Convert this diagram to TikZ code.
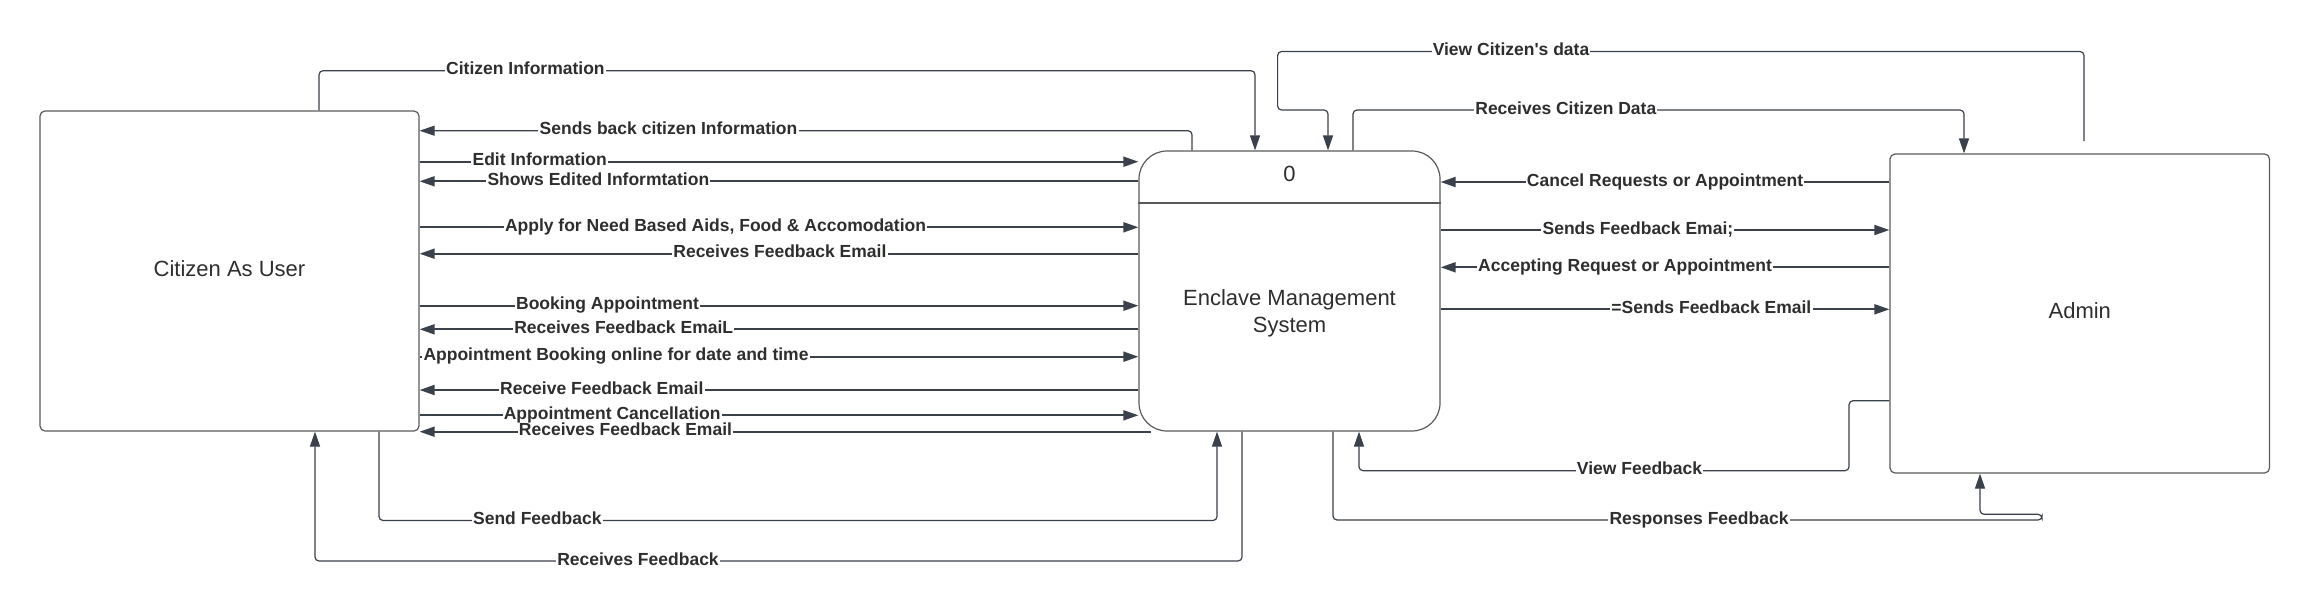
\documentclass[tikz,border=0pt]{standalone}
\usepackage{fontspec}
\setmainfont{Liberation Sans}
\usetikzlibrary{arrows.meta}
\definecolor{lc}{HTML}{3A414A}
\definecolor{tc}{HTML}{2E2E2E}
\definecolor{bc}{HTML}{5A5A5A}
\begin{document}
\begin{tikzpicture}[x=0.5pt,y=-0.5pt,
  box/.style={draw=bc, line width=0.6pt, rounded corners=2.5pt, text=tc, font=\fontsize{11}{13.5}\selectfont, align=center, inner sep=0pt, text height=8pt, text depth=3pt},
  flow/.style={draw=lc, line width=0.9pt, -{Triangle[length=7.5pt,width=5pt]}},
  elbow/.style={draw=lc, line width=0.6pt, rounded corners=2pt, -{Triangle[length=7.5pt,width=5pt]}},
  lbl/.style={fill=white, text=tc, font=\fontsize{8.75}{10}\selectfont\bfseries, inner xsep=0.6pt, inner ysep=0pt, text height=6.3pt, text depth=2.2pt}
]
\useasboundingbox (0,0) rectangle (2311,611);

% entities
\node[box, minimum width=189.5pt, minimum height=160pt] (cit) at (229.5,271) {Citizen As User};
\node[box, rounded corners=14pt, minimum width=150.5pt, minimum height=140pt] (ems) at (1289.5,291) {};
\draw[draw=bc, line width=0.6pt] (ems.west |- 0,203) -- (ems.east |- 0,203);
\node[text=tc, font=\fontsize{11}{13.5}\selectfont] (emsid) at (1289.5,174) {0};
\node[text=tc, font=\fontsize{11}{13.5}\selectfont, align=center] (emsname) at (1289.5,313) {Enclave Management\\System};
\node[box, minimum width=189.75pt, minimum height=159.5pt] (adm) at (2079.75,313.5) {Admin};

% left elbow connectors
\draw[elbow] (cit.north -| 319,0) -- (319,70.7) -- (1255,70.7) -- (ems.north -| 1255,0);
\draw[elbow] (ems.north -| 1192,0) -- (1192,130.7) -- (cit.east |- 0,130.7);
\draw[elbow] (cit.south -| 379,0) -- (379,520.5) -- (1217,520.5) -- (ems.south -| 1217,0);
\draw[elbow] (ems.south -| 1242,0) -- (1242,561) -- (315,561) -- (cit.south -| 315,0);

% left straight flows
\draw[flow] (cit.east |- 0,161.7) -- (ems.west |- 0,161.7);
\draw[flow] (ems.west |- 0,181.3) -- (cit.east |- 0,181.3);
\draw[flow] (cit.east |- 0,227.3) -- (ems.west |- 0,227.3);
\draw[flow] (ems.west |- 0,253.7) -- (cit.east |- 0,253.7);
\draw[flow] (cit.east |- 0,305.7) -- (ems.west |- 0,305.7);
\draw[flow] (ems.west |- 0,329.3) -- (cit.east |- 0,329.3);
\draw[flow] (cit.east |- 0,356.7) -- (ems.west |- 0,356.7);
\draw[flow] (ems.west |- 0,390) -- (cit.east |- 0,390);
\draw[flow] (cit.east |- 0,415.3) -- (ems.west |- 0,415.3);
\coordinate (rfe) at (1151,431.7);
\draw[flow] (rfe) -- (cit.east |- 0,431.7);

% right elbow connectors
\coordinate (vcd) at (2084,141);
\draw[elbow] (vcd) -- (2084,51.5) -- (1277.6,51.5) -- (1277.6,110) -- (1328,110) -- (ems.north -| 1328,0);
\draw[elbow] (ems.north -| 1353,0) -- (1353,110) -- (1964,110) -- (adm.north -| 1964,0);
\draw[elbow] (adm.west |- 0,400.7) -- (1849,400.7) -- (1849,470.7) -- (1359,470.7) -- (ems.south -| 1359,0);
\draw[elbow] (ems.south -| 1333,0) -- (1333,520) -- (2042,520) -- (2042,514.3) -- (1980,514.3) -- (adm.south -| 1980,0);

% right straight flows
\draw[flow] (adm.west |- 0,182) -- (ems.east |- 0,182);
\draw[flow] (ems.east |- 0,230) -- (adm.west |- 0,230);
\draw[flow] (adm.west |- 0,267.3) -- (ems.east |- 0,267.3);
\draw[flow] (ems.east |- 0,309.3) -- (adm.west |- 0,309.3);

% labels
\node[lbl] (l1) at (525.4,70.7) {Citizen Information};
\node[lbl] (l2) at (668.5,130.7) {Sends back citizen Information};
\node[lbl] (l3) at (539.7,161.7) {Edit Information};
\node[lbl] (l4) at (598.4,181.3) {Shows Edited Informtation};
\node[lbl] (l5) at (715.5,227.3) {Apply for Need Based Aids, Food \& Accomodation};
\node[lbl] (l6) at (779.9,253.7) {Receives Feedback Email};
\node[lbl] (l7) at (607.5,305.7) {Booking Appointment};
\node[lbl] (l8) at (623.7,329.3) {Receives Feedback EmaiL};
\node[lbl] (l9) at (616,356.7) {Appointment Booking online for date and time};
\node[lbl] (l10) at (601.8,390) {Receive Feedback Email};
\node[lbl] (l11) at (612.2,415.3) {Appointment Cancellation};
\node[lbl] (l12) at (625.5,431.7) {Receives Feedback Email};
\node[lbl] (l13) at (537.3,520.5) {Send Feedback};
\node[lbl] (l14) at (638,561) {Receives Feedback};
\node[lbl] (l15) at (1511,51.5) {View Citizen\textquotesingle s data};
\node[lbl] (l16) at (1565.8,110) {Receives Citizen Data};
\node[lbl] (l17) at (1665,182) {Cancel Requests or Appointment};
\node[lbl] (l18) at (1637.9,230) {Sends Feedback Emai;};
\node[lbl] (l19) at (1625,267.3) {Accepting Request or Appointment};
\node[lbl] (l20) at (1711.4,309.3) {=Sends Feedback Email};
\node[lbl] (l21) at (1639.5,470.7) {View Feedback};
\node[lbl] (l22) at (1699,520) {Responses Feedback};
\end{tikzpicture}
\end{document}
